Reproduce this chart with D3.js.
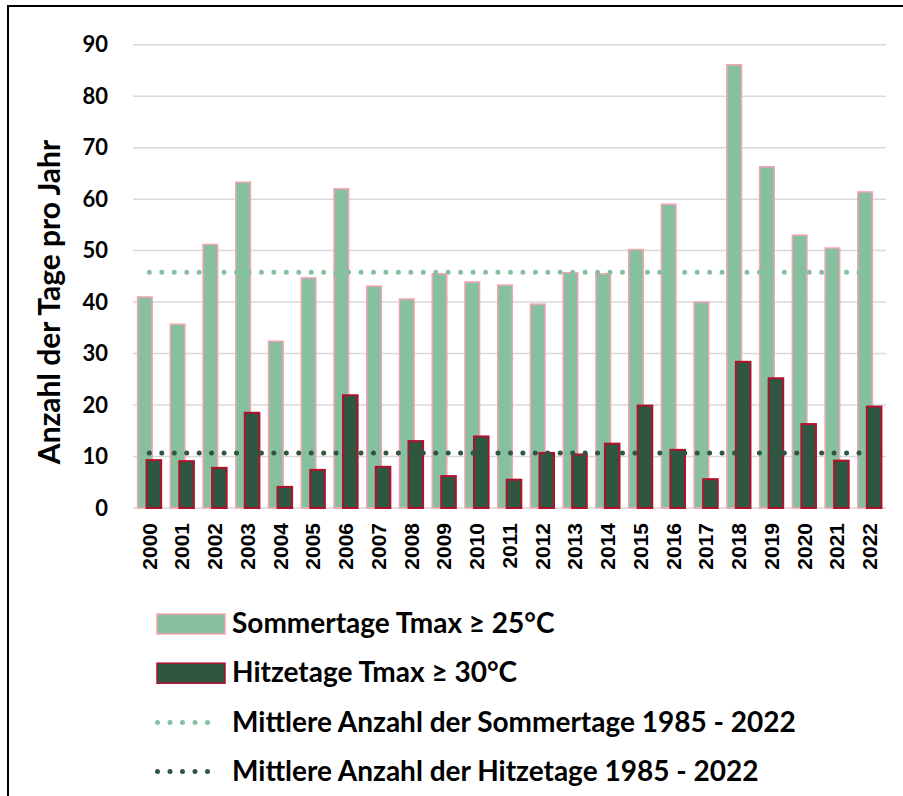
<!DOCTYPE html>
<html>
<head>
<meta charset="utf-8">
<script src="https://cdn.jsdelivr.net/npm/d3@7"></script>
<style>
  body { margin: 0; background: #fff; }
  svg { display: block; }
</style>
</head>
<body>
<div id="chart"></div>
<script>
// data
var years = ["2000","2001","2002","2003","2004","2005","2006","2007","2008","2009","2010","2011",
             "2012","2013","2014","2015","2016","2017","2018","2019","2020","2021","2022"];
var sommertage = [41.0, 35.7, 51.2, 63.3, 32.4, 44.7, 62.0, 43.1, 40.6, 45.5, 43.9, 43.3,
                  39.6, 45.7, 45.5, 50.2, 59.0, 40.0, 86.1, 66.3, 53.0, 50.5, 61.4];
var hitzetage = [9.3, 9.1, 7.8, 18.5, 4.1, 7.4, 21.9, 8.0, 13.0, 6.2, 13.9, 5.5,
                 10.7, 10.4, 12.5, 19.9, 11.3, 5.6, 28.4, 25.2, 16.3, 9.2, 19.7];
var meanSommer = 45.8;
var meanHitze = 10.7;
var yTicks = [0, 10, 20, 30, 40, 50, 60, 70, 80, 90];
var legendLabels = ["Sommertage Tmax \u2265 25\u00b0C", "Hitzetage Tmax \u2265 30\u00b0C",
                    "Mittlere Anzahl der Sommertage 1985 - 2022", "Mittlere Anzahl der Hitzetage 1985 - 2022"];

var W = 903, H = 796;
var margin = { top: 44.7, left: 133, right: 17, bottom: 288 };
var width = W - margin.left - margin.right,
    height = H - margin.top - margin.bottom;

var lightGreen = "#86c09f", pink = "#f4a3b4",
    darkGreen = "#2f5641", crimson = "#b0122e";

var svg = d3.select("#chart").append("svg")
    .attr("width", W)
    .attr("height", H);

// outer frame (cut off at right / bottom like the screenshot)
svg.append("rect")
    .attr("x", 8).attr("y", 6)
    .attr("width", 1000).attr("height", 1000)
    .attr("fill", "none")
    .attr("stroke", "#000")
    .attr("stroke-width", 2);

var g = svg.append("g")
    .attr("transform", "translate(" + margin.left + "," + margin.top + ")");

var x = d3.scaleBand().domain(years).range([0, width]).padding(0);
var y = d3.scaleLinear().domain([0, 90]).range([height, 0]);

var bw = x.bandwidth(),
    barW = bw * 0.446,
    shift = bw * 0.1375;

// gridlines
g.selectAll(".grid")
    .data(yTicks)
    .enter().append("line")
    .attr("class", "grid")
    .attr("x1", 0).attr("x2", width)
    .attr("y1", d => y(d)).attr("y2", d => y(d))
    .attr("stroke", "#d9d9d9")
    .attr("stroke-width", 1.5);

// y axis labels
var yAxis = g.append("g")
    .call(d3.axisLeft(y).tickValues(yTicks).tickSize(0).tickPadding(25));
yAxis.select(".domain").remove();
yAxis.selectAll("text")
    .attr("font-family", "Lato, sans-serif")
    .attr("font-weight", "bold")
    .attr("font-size", 22)
    .attr("fill", "#000");

// x axis labels
var xAxis = g.append("g")
    .attr("transform", "translate(0," + height + ")")
    .call(d3.axisBottom(x).tickSize(0));
xAxis.select(".domain").remove();
xAxis.selectAll("text")
    .attr("font-family", "'Liberation Sans', Arial, sans-serif")
    .attr("font-weight", "bold")
    .attr("font-size", 21)
    .attr("fill", "#000")
    .attr("text-anchor", "end")
    .attr("transform", "translate(0,15)rotate(-90)")
    .attr("x", 0).attr("y", 0).attr("dy", "0.35em");

// Sommertage bars
g.selectAll(".sommer")
    .data(sommertage)
    .enter().append("rect")
    .attr("class", "sommer")
    .attr("x", (d, i) => x(years[i]) + bw / 2 - shift - barW / 2)
    .attr("y", d => y(d))
    .attr("width", barW)
    .attr("height", d => height - y(d))
    .attr("fill", lightGreen)
    .attr("stroke", pink)
    .attr("stroke-width", 1.5);

// Hitzetage bars
g.selectAll(".hitze")
    .data(hitzetage)
    .enter().append("rect")
    .attr("class", "hitze")
    .attr("x", (d, i) => x(years[i]) + bw / 2 + shift - barW / 2)
    .attr("y", d => y(d))
    .attr("width", barW)
    .attr("height", d => height - y(d))
    .attr("fill", darkGreen)
    .attr("stroke", crimson)
    .attr("stroke-width", 2);

// mean lines (dotted)
var x0 = x(years[0]) + bw / 2,
    x1 = x(years[years.length - 1]) + bw / 2;
[[meanSommer, lightGreen], [meanHitze, darkGreen]].forEach(function (m) {
    g.append("line")
        .attr("x1", x0).attr("x2", x1)
        .attr("y1", y(m[0])).attr("y2", y(m[0]))
        .attr("stroke", m[1])
        .attr("stroke-width", 5)
        .attr("stroke-linecap", "round")
        .attr("stroke-dasharray", "0,12.45");
});

// y axis title
svg.append("text")
    .attr("transform", "translate(59.5,302)rotate(-90)")
    .attr("text-anchor", "middle")
    .attr("font-family", "Lato, sans-serif")
    .attr("font-weight", "bold")
    .attr("font-size", 30)
    .text("Anzahl der Tage pro Jahr");

// legend
var legend = svg.append("g").attr("transform", "translate(157,624)");
var rowH = 49.2;
legendLabels.forEach(function (label, i) {
    var row = legend.append("g").attr("transform", "translate(0," + (i * rowH) + ")");
    if (i < 2) {
        row.append("rect")
            .attr("x", 0).attr("y", -10)
            .attr("width", 68).attr("height", 20)
            .attr("fill", i == 0 ? lightGreen : darkGreen)
            .attr("stroke", i == 0 ? pink : crimson)
            .attr("stroke-width", 1.5);
    } else {
        row.append("line")
            .attr("x1", 0.5).attr("x2", 63)
            .attr("y1", 0).attr("y2", 0)
            .attr("stroke", i == 2 ? lightGreen : darkGreen)
            .attr("stroke-width", 5)
            .attr("stroke-linecap", "round")
            .attr("stroke-dasharray", "0,12.5");
    }
    row.append("text")
        .attr("x", 75)
        .attr("y", 0)
        .attr("dy", "0.33em")
        .attr("font-family", "Lato, sans-serif")
        .attr("font-weight", "bold")
        .attr("font-size", 28)
        .text(label);
});
</script>
</body>
</html>
